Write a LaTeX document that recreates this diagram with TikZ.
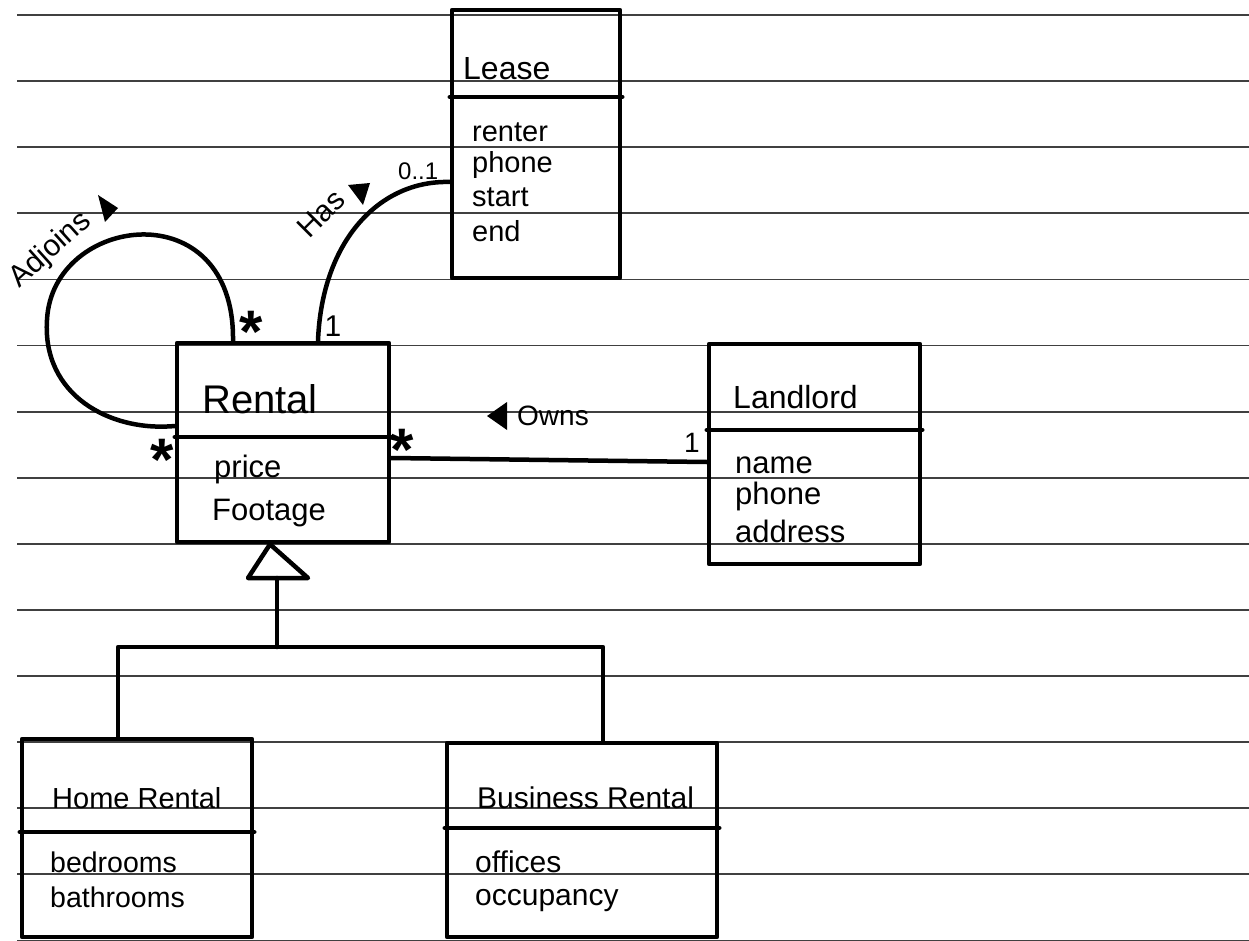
\documentclass[tikz,border=0pt]{standalone}
\usepackage{fontspec}
\setmainfont{Liberation Sans}
\begin{document}
\begin{tikzpicture}[x=1pt,y=-1pt,
  ruled/.style={line width=1.8pt, black!75},
  cls/.style={draw, rectangle, line width=4.5pt, line join=round, inner sep=0pt},
  link/.style={line width=4.5pt, line cap=round, line join=round},
  txt/.style={anchor=base west, inner sep=0pt, font=\fontsize{#1}{#1}\selectfont},
  mult/.style={anchor=base, inner sep=0pt, font=\fontsize{#1}{#1}\selectfont},
  star/.style={anchor=north, inner sep=0pt, font=\fontsize{60}{60}\selectfont\bfseries},
  dirmark/.style={fill=black, line join=round}
]
\fill[white] (0,0) rectangle (1249,941);
\useasboundingbox (0,0) rectangle (1249,941);
% ruled paper
\foreach \k in {0,...,14}{\pgfmathsetmacro\yy{15+66.1*\k}\draw[ruled] (17,\yy) -- (1249,\yy);}

% classes
\node[cls, minimum width=168pt, minimum height=268pt] (lease) at (536,144) {};
\node[cls, minimum width=212pt, minimum height=199pt] (rental) at (283,442.5) {};
\node[cls, minimum width=211pt, minimum height=220pt] (landlord) at (814.5,454) {};
\node[cls, minimum width=230pt, minimum height=198pt] (home) at (137,838) {};
\node[cls, minimum width=270pt, minimum height=194pt] (business) at (582,840) {};

% compartments
\draw[link] (lease.west |- 0,97) -- (lease.east |- 0,97);
\draw[link] (rental.west |- 0,437) -- (rental.east |- 0,437);
\draw[link] (landlord.west |- 0,430) -- (landlord.east |- 0,430);
\draw[link] (home.west |- 0,832) -- (home.east |- 0,832);
\draw[link] (business.west |- 0,828) -- (business.east |- 0,828);

% titles
\node[txt=32] (leaseT) at (463,80) {Lease};
\node[txt=40] (rentalT) at (202,413) {Rental};
\node[txt=32] (landlordT) at (733,408) {Landlord};
\node[txt=29] (homeT) at (52,808) {Home Rental};
\node[txt=30] (businessT) at (477,808) {Business Rental};

% attributes
\node[txt=29] (la1) at (472,142) {renter};
\node[txt=29] (la2) at (472,173) {phone};
\node[txt=29] (la3) at (472,207) {start};
\node[txt=29] (la4) at (472,241) {end};
\node[txt=31] (ra1) at (214,477) {price};
\node[txt=31] (ra2) at (212,520) {Footage};
\node[txt=31] (da1) at (735,473) {name};
\node[txt=31] (da2) at (735,504) {phone};
\node[txt=31] (da3) at (735,542) {address};
\node[txt=28.5] (ha1) at (50,872) {bedrooms};
\node[txt=28.5] (ha2) at (50,907) {bathrooms};
\node[txt=30] (ba1) at (475,872) {offices};
\node[txt=30] (ba2) at (475,905) {occupancy};

% Adjoins (self association)
\draw[link] (rental.west |- 0,426) .. controls (110,432) and (42,395) .. (47,320)
  .. controls (52,215) and (235,190) .. (rental.north -| 233,0);
\node[txt=30, rotate=42] (adjl) at (19,289) {Adjoins};
\fill[dirmark] (98,195) -- (118,208) -- (105,222) -- cycle;
\node[star] (s1) at (251,311) {*};
\node[star] (s2) at (162,439) {*};

% Has
\draw[link] (rental.north -| 318,0) .. controls (322,240) and (380,180) .. (lease.west |- 0,182);
\node[txt=30, rotate=45] (hasl) at (309,240) {Has};
\fill[dirmark] (348,185) -- (370,183) -- (363,205) -- cycle;
\node[mult=30] (m1) at (333,336) {1};
\node[txt=24] (m01) at (398,180) {0..1};

% Owns
\draw[link] (rental.east |- 0,458) -- (landlord.west |- 0,462);
\fill[dirmark] (487,416) -- (507,402) -- (507,430) -- cycle;
\node[txt=28] (ownsl) at (517,425) {Owns};
\node[star] (s3) at (402,429) {*};
\node[mult=28] (m2) at (692,452) {1};

% Generalization
\coordinate (gj) at (277,647);
\draw[link] (rental.south -| 270,0) -- (248,578) -- (308,578) -- cycle;
\draw[link] (gj) -- (277,578);
\draw[link] (home.north -| 118,0) |- (gj) -| (business.north -| 603,0);
\end{tikzpicture}
\end{document}
